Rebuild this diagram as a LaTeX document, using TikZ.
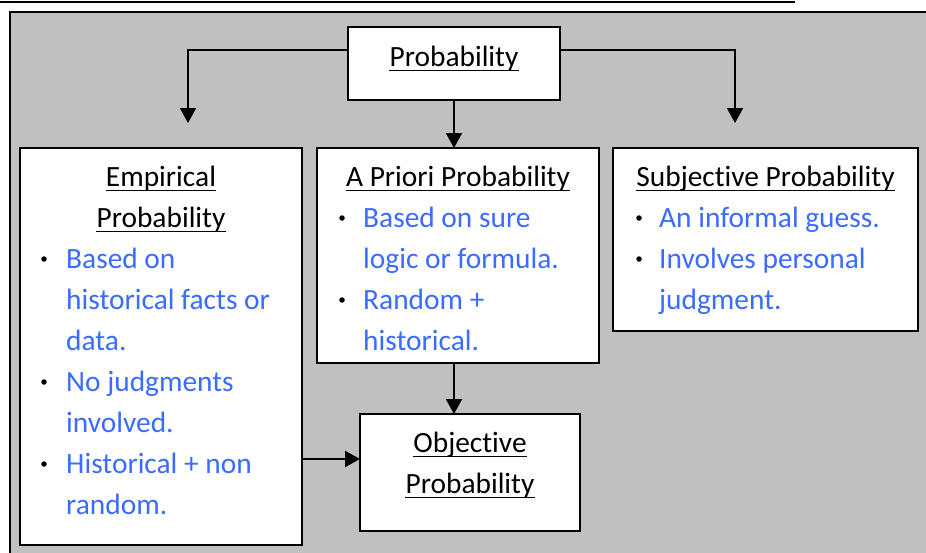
\documentclass[tikz,border=0pt]{standalone}
\usepackage{fontspec}
\setmainfont{Carlito}[Ligatures=NoCommon]
\usetikzlibrary{arrows.meta}
\definecolor{panelgrey}{RGB}{192,192,192}
\definecolor{itemblue}{RGB}{58,108,255}
\tikzset{
  box/.style={draw=black, line width=2pt, fill=white, inner sep=0pt, outer sep=0pt},
  ttl/.style={inner sep=0pt, anchor=base, text=black},
  itm/.style={inner sep=0pt, anchor=base west, text=itemblue},
  uline/.style={line width=1.8pt, black},
  arr/.style={line width=2pt, -{Triangle[width=16pt,length=15pt]}},
  dot/.style={circle, fill=black, inner sep=0pt, minimum size=5.5pt}
}
\begin{document}
\begin{tikzpicture}[x=1pt, y=-1pt, font=\fontsize{29.4pt}{41pt}\selectfont]
\useasboundingbox (0,0) rectangle (926,552);
% rule above the panel and the grey panel
\draw[line width=2pt] (0,2) -- (795,2);
\draw[line width=2.5pt, fill=panelgrey] (10,12) rectangle (960,600);

% boxes
\node[box, minimum width=212pt, minimum height=73pt]  (prob) at (454,63.5) {};
\node[box, minimum width=282pt, minimum height=397pt] (emp)  at (161,346.5) {};
\node[box, minimum width=282pt, minimum height=215pt] (apr)  at (458,255.5) {};
\node[box, minimum width=305pt, minimum height=183pt] (subj) at (765.5,239.5) {};
\node[box, minimum width=220pt, minimum height=117pt] (obj)  at (470,472.5) {};

% connectors
\coordinate (ltip) at (188,123);
\coordinate (rtip) at (735,123);
\coordinate (oin) at ([yshift=13.5pt]obj.west);
\draw[arr] ([yshift=13.5pt]prob.west) -| (ltip);
\draw[arr] ([yshift=13.5pt]prob.east) -| (rtip);
\draw[arr] (prob.south) -- (prob.south |- apr.north);
\draw[arr] (apr.south -| prob.south) -- (prob.south |- obj.north);
\draw[arr] (emp.east |- oin) -- (oin);

% titles
\node[ttl] (tP)  at (454,66)  {Probability};
\node[ttl] (tE1) at (161,186) {Empirical};
\node[ttl] (tE2) at (161,227) {Probability};
\node[ttl] (tA)  at (458,186) {A Priori Probability};
\node[ttl] (tS)  at (765.5,186) {Subjective Probability};
\node[ttl] (tO1) at (470,452) {Objective};
\node[ttl] (tO2) at (470,493) {Probability};
\foreach \n in {tP,tE1,tE2,tA,tS,tO1,tO2}
  \draw[uline] ([yshift=-4.5pt]\n.base west) -- ([yshift=-4.5pt]\n.base east);

% empirical items
\node[dot] (bE1) at (44,259) {};
\node[dot] (bE2) at (44,382) {};
\node[dot] (bE3) at (44,464) {};
\node[itm] (e1) at (66,268) {Based on};
\node[itm] (e2) at (66,309) {historical facts or};
\node[itm] (e3) at (66,350) {data.};
\node[itm] (e4) at (66,391) {No judgments};
\node[itm] (e5) at (66,432) {involved.};
\node[itm] (e6) at (66,473) {Historical + non};
\node[itm] (e7) at (66,514) {random.};

% a priori items
\node[dot] (bA1) at (342,218) {};
\node[dot] (bA2) at (342,300) {};
\node[itm] (a1) at (363,227) {Based on sure};
\node[itm] (a2) at (363,268) {logic or formula.};
\node[itm] (a3) at (363,309) {Random +};
\node[itm] (a4) at (363,350) {historical.};

% subjective items
\node[dot] (bS1) at (639,218) {};
\node[dot] (bS2) at (639,259) {};
\node[itm] (s1) at (659,227) {An informal guess.};
\node[itm] (s2) at (659,268) {Involves personal};
\node[itm] (s3) at (659,309) {judgment.};
\end{tikzpicture}
\end{document}
